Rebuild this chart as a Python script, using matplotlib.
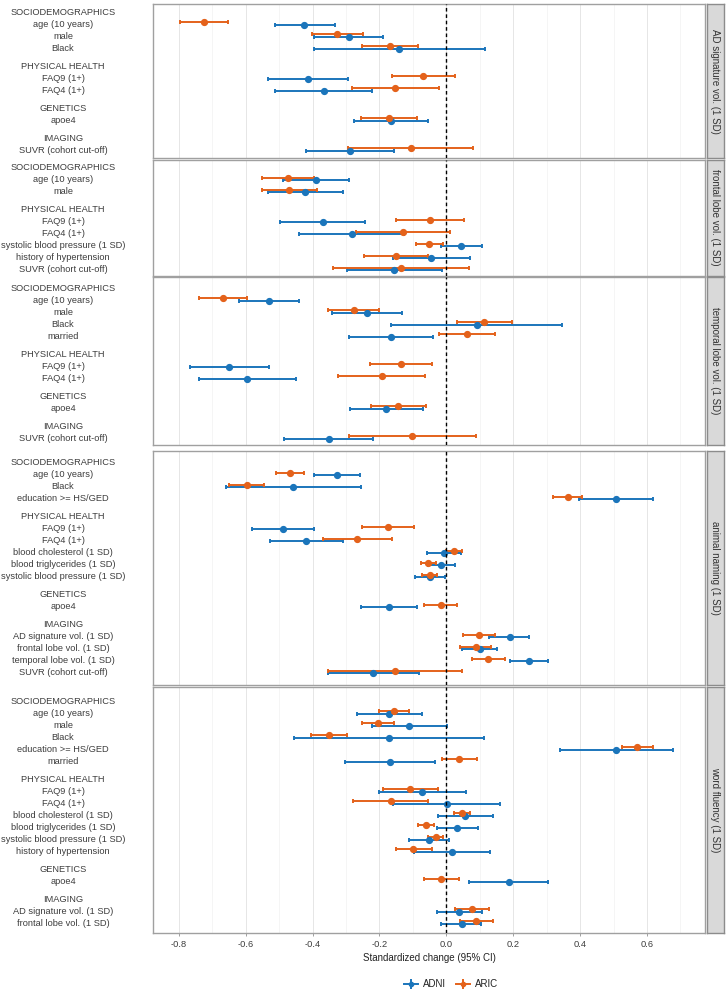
import numpy as np
import matplotlib.pyplot as plt
from matplotlib.lines import Line2D

plt.rcParams['font.family'] = ['Liberation Sans', 'DejaVu Sans']

# ---- data -------------------------------------------------------------
outcomes = ["AD signature vol. (1 SD)", "frontal lobe vol. (1 SD)",
            "temporal lobe vol. (1 SD)", "animal naming (1 SD)",
            "word fluency (1 SD)"]
x_ticks = [-0.8, -0.6, -0.4, -0.2, 0.0, 0.2, 0.4, 0.6]
x_tick_labels = ["-0.8", "-0.6", "-0.4", "-0.2", "0.0", "0.2", "0.4", "0.6"]
x_minor = [-0.7, -0.5, -0.3, -0.1, 0.1, 0.3, 0.5, 0.7]

# predictor groups shown in each panel
ad_groups = [("SOCIODEMOGRAPHICS", ["age (10 years)", "male", "Black"]),
             ("PHYSICAL HEALTH", ["FAQ9 (1+)", "FAQ4 (1+)"]),
             ("GENETICS", ["apoe4"]),
             ("IMAGING", ["SUVR (cohort cut-off)"])]
frontal_groups = [("SOCIODEMOGRAPHICS", ["age (10 years)", "male"]),
                  ("PHYSICAL HEALTH", ["FAQ9 (1+)", "FAQ4 (1+)",
                                       "systolic blood pressure (1 SD)",
                                       "history of hypertension",
                                       "SUVR (cohort cut-off)"])]
temporal_groups = [("SOCIODEMOGRAPHICS", ["age (10 years)", "male", "Black", "married"]),
                   ("PHYSICAL HEALTH", ["FAQ9 (1+)", "FAQ4 (1+)"]),
                   ("GENETICS", ["apoe4"]),
                   ("IMAGING", ["SUVR (cohort cut-off)"])]
animal_groups = [("SOCIODEMOGRAPHICS", ["age (10 years)", "Black", "education >= HS/GED"]),
                 ("PHYSICAL HEALTH", ["FAQ9 (1+)", "FAQ4 (1+)", "blood cholesterol (1 SD)",
                                      "blood triglycerides (1 SD)",
                                      "systolic blood pressure (1 SD)"]),
                 ("GENETICS", ["apoe4"]),
                 ("IMAGING", ["AD signature vol. (1 SD)", "frontal lobe vol. (1 SD)",
                              "temporal lobe vol. (1 SD)", "SUVR (cohort cut-off)"])]
fluency_groups = [("SOCIODEMOGRAPHICS", ["age (10 years)", "male", "Black",
                                         "education >= HS/GED", "married"]),
                  ("PHYSICAL HEALTH", ["FAQ9 (1+)", "FAQ4 (1+)", "blood cholesterol (1 SD)",
                                       "blood triglycerides (1 SD)",
                                       "systolic blood pressure (1 SD)",
                                       "history of hypertension"]),
                  ("GENETICS", ["apoe4"]),
                  ("IMAGING", ["AD signature vol. (1 SD)", "frontal lobe vol. (1 SD)"])]

# AD signature volume
ad_adni_est = [-0.424, -0.292, -0.140, -0.414, -0.367, -0.166, -0.289]
ad_adni_lo = [-0.512, -0.396, -0.396, -0.532, -0.511, -0.275, -0.419]
ad_adni_hi = [-0.332, -0.188, 0.117, -0.295, -0.221, -0.056, -0.157]
ad_aric_est = [-0.724, -0.326, -0.168, -0.069, -0.153, -0.171, -0.106]
ad_aric_lo = [-0.795, -0.402, -0.251, -0.161, -0.283, -0.255, -0.295]
ad_aric_hi = [-0.653, -0.250, -0.084, 0.026, -0.023, -0.088, 0.081]

# frontal lobe volume
fr_adni_est = [-0.390, -0.421, -0.370, -0.283, 0.045, -0.046, -0.155]
fr_adni_lo = [-0.488, -0.534, -0.497, -0.439, -0.017, -0.158, -0.297]
fr_adni_hi = [-0.292, -0.308, -0.242, -0.126, 0.107, 0.070, -0.014]
fr_aric_est = [-0.472, -0.469, -0.050, -0.130, -0.052, -0.149, -0.135]
fr_aric_lo = [-0.550, -0.552, -0.151, -0.270, -0.092, -0.246, -0.339]
fr_aric_hi = [-0.396, -0.387, 0.052, 0.011, -0.011, -0.054, 0.067]

# temporal lobe volume
tl_adni_est = [-0.529, -0.237, 0.092, -0.164, -0.649, -0.596, -0.179, -0.351]
tl_adni_lo = [-0.620, -0.342, -0.164, -0.292, -0.766, -0.740, -0.288, -0.484]
tl_adni_hi = [-0.439, -0.133, 0.347, -0.039, -0.531, -0.449, -0.070, -0.218]
tl_aric_est = [-0.667, -0.277, 0.114, 0.062, -0.136, -0.192, -0.143, -0.102]
tl_aric_lo = [-0.738, -0.354, 0.031, -0.022, -0.228, -0.323, -0.226, -0.292]
tl_aric_hi = [-0.596, -0.200, 0.197, 0.146, -0.044, -0.063, -0.060, 0.090]

# animal naming
an_adni_est = [-0.326, -0.457, 0.506, -0.488, -0.419, -0.008, -0.015, -0.050, -0.170, 0.190, 0.100, 0.247, -0.218]
an_adni_lo = [-0.396, -0.660, 0.396, -0.580, -0.528, -0.059, -0.054, -0.095, -0.255, 0.129, 0.046, 0.190, -0.355]
an_adni_hi = [-0.258, -0.256, 0.619, -0.396, -0.310, 0.043, 0.026, -0.003, -0.087, 0.248, 0.152, 0.304, -0.083]
an_aric_est = [-0.467, -0.597, 0.363, -0.174, -0.267, 0.024, -0.054, -0.050, -0.017, 0.097, 0.088, 0.125, -0.154]
an_aric_lo = [-0.509, -0.649, 0.319, -0.251, -0.370, -0.001, -0.077, -0.073, -0.066, 0.050, 0.042, 0.076, -0.355]
an_aric_hi = [-0.426, -0.545, 0.406, -0.096, -0.162, 0.047, -0.031, -0.027, 0.032, 0.146, 0.135, 0.175, 0.047]

# word fluency
wf_adni_est = [-0.170, -0.111, -0.171, 0.508, -0.167, -0.072, 0.001, 0.057, 0.033, -0.052, 0.017, 0.187, 0.038, 0.046]
wf_adni_lo = [-0.266, -0.223, -0.455, 0.340, -0.303, -0.200, -0.158, -0.026, -0.028, -0.112, -0.098, 0.068, -0.029, -0.015]
wf_adni_hi = [-0.073, 0.001, 0.114, 0.679, -0.034, 0.058, 0.161, 0.141, 0.095, 0.009, 0.130, 0.305, 0.107, 0.105]
wf_aric_est = [-0.157, -0.204, -0.350, 0.571, 0.038, -0.108, -0.166, 0.048, -0.061, -0.032, -0.099, -0.016, 0.077, 0.090]
wf_aric_lo = [-0.201, -0.251, -0.405, 0.524, -0.013, -0.190, -0.278, 0.023, -0.086, -0.055, -0.151, -0.068, 0.025, 0.041]
wf_aric_hi = [-0.112, -0.157, -0.296, 0.618, 0.091, -0.024, -0.056, 0.072, -0.036, -0.010, -0.043, 0.037, 0.129, 0.140]

cohorts = ["ADNI", "ARIC"]
colors = {"ADNI": "#1b75bb", "ARIC": "#e4621b"}

panels = [
    (ad_groups, (ad_adni_est, ad_adni_lo, ad_adni_hi), (ad_aric_est, ad_aric_lo, ad_aric_hi)),
    (frontal_groups, (fr_adni_est, fr_adni_lo, fr_adni_hi), (fr_aric_est, fr_aric_lo, fr_aric_hi)),
    (temporal_groups, (tl_adni_est, tl_adni_lo, tl_adni_hi), (tl_aric_est, tl_aric_lo, tl_aric_hi)),
    (animal_groups, (an_adni_est, an_adni_lo, an_adni_hi), (an_aric_est, an_aric_lo, an_aric_hi)),
    (fluency_groups, (wf_adni_est, wf_adni_lo, wf_adni_hi), (wf_aric_est, wf_aric_lo, wf_aric_hi)),
]

# ---- layout (pixels) --------------------------------------------------
W, H = 728, 993
ROW = 12.0
P_LEFT, P_RIGHT = 153.3, 705.0
S_LEFT, S_RIGHT = 706.5, 724.0
# (panel top, panel bottom, first row) in pixels
boxes = [(4, 158, 11.3), (160, 275.5, 167), (277, 444.7, 287.7),
         (451, 685, 462), (687.3, 933, 700.3)]
XMIN = (P_LEFT - 446.3) / 334.5
XMAX = (P_RIGHT - 446.3) / 334.5


def px_box(left, top, right, bottom):
    return [left / W, 1 - bottom / H, (right - left) / W, (bottom - top) / H]


def layout_rows(groups):
    y = 0.0
    ticks, labels, item_y = [], [], []
    for gi, (hdr, items) in enumerate(groups):
        if gi > 0:
            y += 0.5
        ticks.append(y)
        labels.append(hdr)
        y += 1
        for it in items:
            ticks.append(y)
            labels.append(it)
            item_y.append(y)
            y += 1
    return ticks, labels, np.array(item_y)


fig = plt.figure(figsize=(W / 100, H / 100), dpi=100)
txt_col = "#3d3d3d"

for i, (groups, adni, aric) in enumerate(panels):
    top, bottom, first = boxes[i]
    ax = fig.add_axes(px_box(P_LEFT, top, P_RIGHT, bottom))
    ticks, labels, item_y = layout_rows(groups)

    for name, vals, off in [("ADNI", adni, 0.12), ("ARIC", aric, -0.12)]:
        est, lo, hi = (np.array(v) for v in vals)
        ax.errorbar(est, item_y + off, xerr=[est - lo, hi - est], fmt='o',
                    color=colors[name], ms=4.2, elinewidth=1.4, capsize=1.7,
                    capthick=1.4, zorder=3)

    ax.axvline(0, color='black', lw=1.0, ls=(0, (2.6, 2.0)), zorder=4)

    ax.set_xlim(XMIN, XMAX)
    ax.set_ylim((bottom - first) / ROW, -(first - top) / ROW)
    ax.set_xticks(x_ticks)
    ax.set_xticks(x_minor, minor=True)
    ax.grid(axis='x', which='major', color='#e6e6e6', lw=0.7)
    ax.grid(axis='x', which='minor', color='#f1f1f1', lw=0.5)
    ax.set_axisbelow(True)

    ax.set_yticks(ticks, labels)
    ax.tick_params(axis='y', length=0, pad=65, labelsize=6.7, labelcolor=txt_col)
    for t in ax.get_yticklabels():
        t.set_ha('center')

    for sp in ax.spines.values():
        sp.set_color('#a0a0a0')
        sp.set_linewidth(1.0)

    if i == len(panels) - 1:
        ax.set_xticklabels(x_tick_labels)
        ax.tick_params(axis='x', which='major', length=2.2, width=0.7, color='#a0a0a0',
                       pad=2.5, labelsize=6.7, labelcolor=txt_col)
        ax.tick_params(axis='x', which='minor', length=0)
        ax.set_xlabel("Standardized change (95% CI)", fontsize=7, color='#222222', labelpad=3)
    else:
        ax.tick_params(axis='x', which='both', length=0, labelbottom=False)

    # facet strip
    sax = fig.add_axes(px_box(S_LEFT, top, S_RIGHT, bottom))
    sax.set_facecolor('#d9d9d9')
    sax.set_xticks([])
    sax.set_yticks([])
    for sp in sax.spines.values():
        sp.set_color('#8c8c8c')
        sp.set_linewidth(1.0)
    sax.text(0.5, 0.5, outcomes[i], rotation=-90, ha='center', va='center',
             fontsize=7, color='#333333', transform=sax.transAxes)

# legend
handles = []
for name in cohorts:
    c = colors[name]
    handles.append((Line2D([], [], color=c, lw=1.4, marker='o', ms=3),
                    Line2D([], [], color=c, lw=0, marker='|', ms=7, mew=1.4)))
fig.legend(handles, cohorts, loc='center', bbox_to_anchor=(451 / W, 1 - 984 / H),
           ncol=2, frameon=False, fontsize=7, handlelength=1.5, handletextpad=0.5,
           columnspacing=1.0, labelcolor='#222222')

fig.savefig("out.png", dpi=100)
